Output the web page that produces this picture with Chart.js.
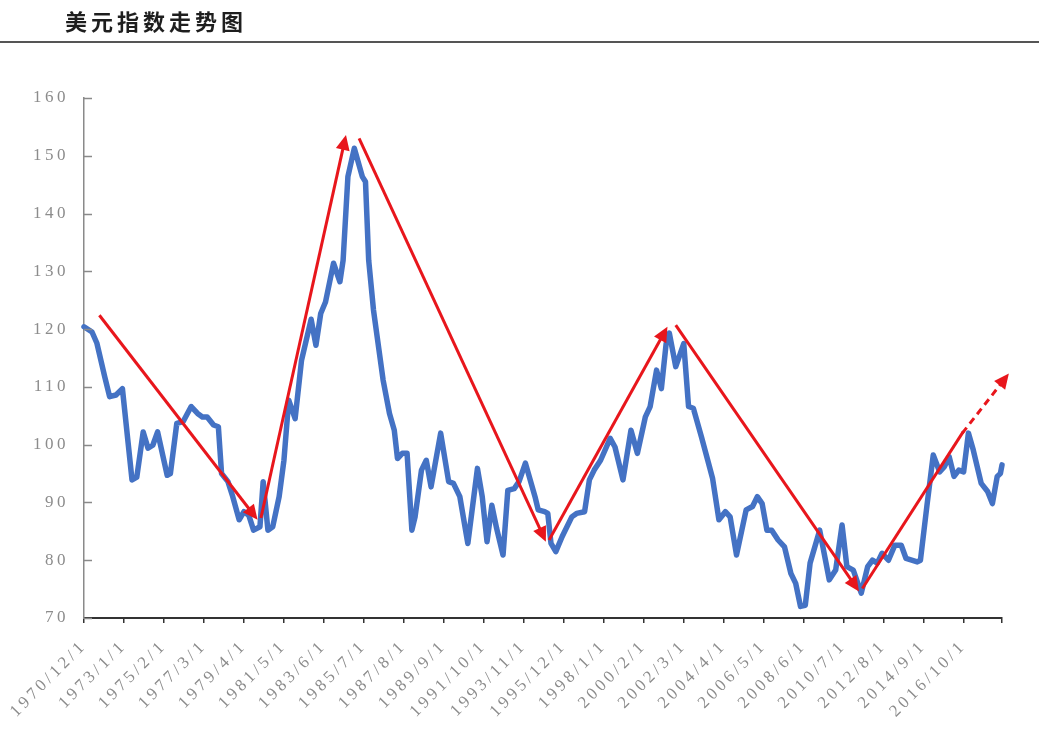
<!DOCTYPE html>
<html>
<head>
<meta charset="utf-8">
<script src="https://cdn.jsdelivr.net/npm/chart.js@4.4.1/dist/chart.umd.min.js"></script>
<style>
  html, body { margin: 0; padding: 0; background: #ffffff; }
  #wrap { position: relative; width: 1039px; height: 752px; overflow: hidden; }
  #c { position: absolute; left: 0; top: 0; }
  #title { position: absolute; left: 65px; top: 5px; font-family: "Noto Sans CJK SC", sans-serif; font-weight: 700; font-size: 22px; letter-spacing: 4px; color: #1e1e1e; line-height: 30px; white-space: nowrap; }
  #rule { position: absolute; left: 0; top: 41px; width: 1039px; height: 2px; background: #555555; }
</style>
</head>
<body>
<div id="wrap">
  <canvas id="c" width="1039" height="752"></canvas>
  <div id="title">美元指数走势图</div>
  <div id="rule"></div>
</div>
<script>
// ---- data (months counted from 1970/12) ----
const obsMonth = [0,5,8,13,16,20,24,30,33,37,40,43,46,52,54,58,62,67,71,74,77,81,84,86,90,93,97,100,103,106,110,112,115,118,122,125,128,132,136,142,145,148,151,156,160,162,165,169,174,176,178,181,187,191,194,196,199,202,205,207,211,214,217,223,228,231,235,240,246,249,252,255,258,262,265,269,272,276,279,282,284,288,290,292,295,299,305,308,313,316,319,323,329,332,337,342,346,351,354,358,361,364,366,370,375,378,381,386,390,393,397,401,404,408,414,418,421,424,427,430,434,438,442,445,448,451,454,460,466,470,474,477,481,486,490,493,496,499,503,507,511,514,521,523,527,531,535,538,541,544,547,550,553,556,561,565,568,571,573,574];
const dxyValue = [120.4,119.5,117.6,111.7,108.3,108.6,109.7,93.9,94.4,102.2,99.4,99.9,102.2,94.7,95.0,103.7,104.0,106.6,105.4,104.8,104.8,103.4,103.1,95.0,93.6,91.0,87.0,88.4,87.8,85.2,85.8,93.6,85.2,85.8,91.0,97.3,107.7,104.5,114.6,121.7,117.2,122.7,124.7,131.4,128.2,131.9,146.4,151.3,146.4,145.5,131.9,123.3,111.2,105.4,102.5,97.6,98.5,98.5,85.2,87.5,95.6,97.3,92.7,102.0,93.6,93.3,91.0,82.9,95.9,91.0,83.2,89.5,85.5,80.9,92.1,92.4,93.6,96.8,93.9,91.0,88.7,88.4,88.1,82.9,81.5,84.1,87.5,88.1,88.4,93.9,95.6,97.3,101.1,99.6,93.9,102.5,98.5,104.8,106.6,112.9,109.7,117.5,119.3,113.5,117.5,106.6,106.3,101.4,97.3,94.2,87.0,88.4,87.5,80.9,88.7,89.3,91.0,89.8,85.2,85.2,83.5,82.3,77.7,76.0,72.0,72.2,79.5,85.2,76.6,78.3,86.1,78.9,78.3,74.3,78.9,80.0,79.5,81.2,80.0,82.6,82.6,80.3,79.7,80.0,89.3,98.2,95.3,96.2,97.9,94.5,95.6,95.3,102.0,99.1,93.3,91.9,89.8,94.5,95.0,96.5];

const tickLabels = ['1970/12/1','1973/1/1','1975/2/1','1977/3/1','1979/4/1','1981/5/1','1983/6/1','1985/7/1','1987/8/1','1989/9/1','1991/10/1','1993/11/1','1995/12/1','1998/1/1','2000/2/1','2002/3/1','2004/4/1','2006/5/1','2008/6/1','2010/7/1','2012/8/1','2014/9/1','2016/10/1'];
const tickEveryMonths = 25;
const lastMonth = 574;

const yTicks = [70,80,90,100,110,120,130,140,150,160];

// trend arrows (month, value)
const arrowFromM = [9.6, 110.6, 172.0, 290.8, 370.0, 486.7, 549.2];
const arrowFromV = [122.4, 87.3, 153.0, 83.5, 120.7, 75.1, 102.0];
const arrowToM   = [108.5, 163.8, 288.8, 364.8, 484.6, 549.2, 578.3];
const arrowToV   = [87.0, 153.6, 83.2, 120.4, 74.6, 102.0, 112.3];
const arrowHead  = [true, true, true, true, true, false, true];
const arrowDash  = [false, false, false, false, false, false, true];

const points = obsMonth.map((m, i) => ({ x: m, y: dxyValue[i] }));

const LS = '3.5px';
const spacingPlugin = {
  id: 'spacing',
  beforeUpdate(chart) { chart.ctx.letterSpacing = LS; },
  beforeDraw(chart) { chart.ctx.letterSpacing = LS; }
};

const yTickMarks = {
  id: 'yTickMarks',
  afterDraw(chart) {
    const { ctx, scales: { x, y } } = chart;
    ctx.save();
    ctx.strokeStyle = '#8a8a8a';
    ctx.lineWidth = 1.5;
    yTicks.forEach(v => {
      const py = Math.round(y.getPixelForValue(v)) + 0.5;
      ctx.beginPath();
      ctx.moveTo(x.left, py);
      ctx.lineTo(x.left + 8, py);
      ctx.stroke();
    });
    ctx.restore();
  }
};

const arrowPlugin = {
  id: 'trendArrows',
  afterDatasetsDraw(chart) {
    const { ctx, scales: { x, y } } = chart;
    ctx.save();
    const red = '#e8161c';
    for (let i = 0; i < arrowFromM.length; i++) {
      const x1 = x.getPixelForValue(arrowFromM[i]);
      const y1 = y.getPixelForValue(arrowFromV[i]);
      const x2 = x.getPixelForValue(arrowToM[i]);
      const y2 = y.getPixelForValue(arrowToV[i]);
      const ang = Math.atan2(y2 - y1, x2 - x1);
      const L = arrowHead[i] ? 15 : 0;
      const W = 7;
      ctx.strokeStyle = red;
      ctx.fillStyle = red;
      ctx.lineWidth = 3;
      ctx.lineCap = 'butt';
      ctx.setLineDash(arrowDash[i] ? [7, 5] : []);
      ctx.beginPath();
      ctx.moveTo(x1, y1);
      ctx.lineTo(x2 - (L - 2) * Math.cos(ang), y2 - (L - 2) * Math.sin(ang));
      ctx.stroke();
      if (arrowHead[i]) {
        ctx.setLineDash([]);
        const bx = x2 - L * Math.cos(ang), by = y2 - L * Math.sin(ang);
        ctx.beginPath();
        ctx.moveTo(x2, y2);
        ctx.lineTo(bx + W * Math.sin(ang), by - W * Math.cos(ang));
        ctx.lineTo(bx - W * Math.sin(ang), by + W * Math.cos(ang));
        ctx.closePath();
        ctx.fill();
      }
    }
    ctx.restore();
  }
};

new Chart(document.getElementById('c'), {
  type: 'line',
  data: {
    datasets: [{
      label: '美元指数',
      data: points,
      borderColor: '#4472c4',
      backgroundColor: '#4472c4',
      borderWidth: 5.5,
      pointRadius: 0,
      tension: 0,
      borderJoinStyle: 'round',
      borderCapStyle: 'round',
      clip: false
    }]
  },
  options: {
    responsive: false,
    devicePixelRatio: 1,
    animation: false,
    layout: { padding: { top: 98, right: 37, left: 0, bottom: 0 } },
    plugins: { legend: { display: false }, tooltip: { enabled: false }, title: { display: false } },
    scales: {
      x: {
        type: 'linear',
        min: 0,
        max: lastMonth,
        afterBuildTicks(scale) {
          const t = tickLabels.map((_, i) => ({ value: i * tickEveryMonths }));
          t.push({ value: lastMonth });
          scale.ticks = t;
        },
        afterFit(scale) { scale.height = 134; },
        grid: { drawOnChartArea: false, drawTicks: true, tickLength: 5, color: '#333333', lineWidth: 1.5 },
        border: { display: true, color: '#333333', width: 2 },
        ticks: {
          autoSkip: false,
          maxRotation: 45,
          minRotation: 45,
          padding: 13,
          color: '#8c8c8c',
          font: { family: 'Liberation Serif', size: 17 },
          callback: (v, i) => (i < tickLabels.length ? tickLabels[i] : '')
        }
      },
      y: {
        min: 70,
        max: 160,
        afterBuildTicks(scale) { scale.ticks = yTicks.map(v => ({ value: v })); },
        afterFit(scale) { scale.width = 83; },
        grid: { drawOnChartArea: false, drawTicks: false },
        border: { display: true, color: '#8a8a8a', width: 1.5 },
        ticks: {
          padding: 15,
          color: '#8c8c8c',
          font: { family: 'Liberation Serif', size: 17 }
        }
      }
    }
  },
  plugins: [spacingPlugin, arrowPlugin, yTickMarks]
});
</script>
</body>
</html>
